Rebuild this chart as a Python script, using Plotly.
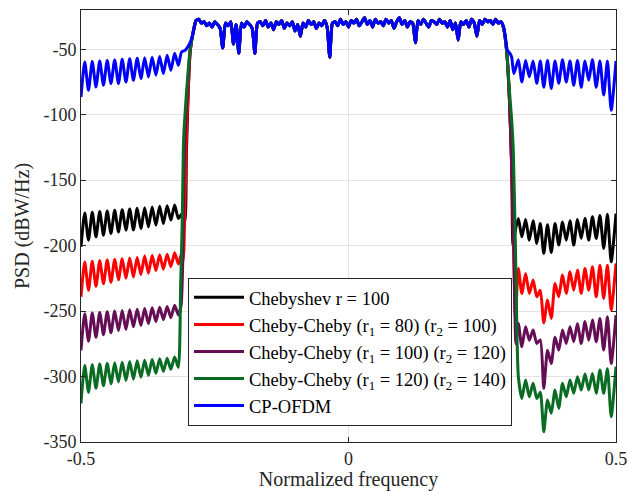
import plotly.graph_objects as go

# ---------------- data ----------------
# left side-lobe grid (null, peak, null, ...)
left_f = [-0.500, -0.493, -0.486, -0.479, -0.472, -0.465, -0.458, -0.451, -0.444,
          -0.437, -0.430, -0.423, -0.416, -0.409, -0.402, -0.395, -0.388, -0.381,
          -0.374, -0.367, -0.360, -0.353, -0.346, -0.339, -0.332, -0.325, -0.318]
# right side-lobe grid (peak, null, peak, ...)
right_f = [0.3175, 0.324, 0.331, 0.338, 0.345, 0.352, 0.3585, 0.365, 0.372, 0.379,
           0.386, 0.393, 0.400, 0.407, 0.414, 0.421, 0.428, 0.435, 0.442, 0.449,
           0.456, 0.463, 0.470, 0.477, 0.484, 0.491, 0.500]
# in-band grid
pass_f = [-0.285, -0.280, -0.275, -0.270, -0.265, -0.260, -0.255, -0.250, -0.245, -0.240,
          -0.235, -0.230, -0.225, -0.220, -0.215, -0.210, -0.205, -0.200, -0.195, -0.190,
          -0.185, -0.180, -0.175, -0.170, -0.165, -0.160, -0.155, -0.150, -0.145, -0.140,
          -0.135, -0.130, -0.125, -0.120, -0.115, -0.110, -0.105, -0.100, -0.095, -0.090,
          -0.085, -0.080, -0.075, -0.070, -0.065, -0.060, -0.055, -0.050, -0.045, -0.040,
          -0.035, -0.030, -0.025, -0.020, -0.015, -0.010, -0.005, 0.000, 0.005, 0.010,
          0.015, 0.020, 0.025, 0.030, 0.035, 0.040, 0.045, 0.050, 0.055, 0.060,
          0.065, 0.070, 0.075, 0.080, 0.085, 0.090, 0.095, 0.100, 0.105, 0.110,
          0.115, 0.120, 0.125, 0.130, 0.135, 0.140, 0.145, 0.150, 0.155, 0.160,
          0.165, 0.170, 0.175, 0.180, 0.185, 0.190, 0.195, 0.200, 0.205, 0.210,
          0.215, 0.220, 0.225, 0.230, 0.235, 0.240, 0.245, 0.250, 0.255, 0.260,
          0.265, 0.270, 0.275, 0.280, 0.285]
pass_psd = [-28, -27, -30, -29, -32, -30, -33, -29, -31, -34,
            -49, -30, -32, -29, -46, -31, -53, -30, -33, -29,
            -31, -34, -53, -30, -29, -32, -28, -33, -30, -35,
            -29, -31, -28, -34, -30, -32, -29, -36, -31, -40,
            -30, -33, -28, -31, -29, -34, -30, -32, -28, -33,
            -56, -30, -29, -32, -27, -31, -29, -33, -28, -30,
            -27, -32, -29, -26, -31, -28, -33, -27, -30, -29,
            -32, -27, -30, -28, -34, -29, -26, -31, -28, -33,
            -29, -30, -45, -28, -31, -27, -30, -33, -28, -29,
            -31, -27, -30, -29, -33, -28, -35, -30, -43, -29,
            -31, -28, -33, -27, -30, -40, -28, -31, -27, -29,
            -28, -31, -27, -30, -29]

# Chebyshev r = 100
cheb_left = [-200.9, -175, -195.8, -174.5, -193.3, -174, -192, -173.5, -190.7, -173,
             -189.5, -172.5, -188.2, -172, -188, -171.5, -186.9, -171, -185.6, -170.5,
             -184.4, -170, -183.1, -169.5, -180.5, -169, -179.3]
cheb_tl_f = [-0.312, -0.306, -0.303, -0.300, -0.296, -0.290]
cheb_tl = [-176, -182, -130, -88, -52, -36]
cheb_tr_f = [0.290, 0.296, 0.301, 0.305, 0.3075, 0.311]
cheb_tr = [-34, -53, -90, -140, -199.6, -190]
cheb_right = [-179.3, -193.3, -180, -195.8, -181, -198.3, -183, -206, -184, -205.2,
              -183, -199.6, -182, -195.8, -181, -199.6, -180, -194.5, -179, -195.8,
              -178, -194.5, -177, -202.1, -176, -212.4, -175.5]

# Cheby-Cheby (r1 = 80) (r2 = 100)
cc80_left = [-239, -212.5, -234, -212, -231, -211.5, -229, -211, -228, -210.5,
             -226, -210, -225, -209.5, -224, -209, -222, -208, -221, -207.5,
             -219, -207, -218, -206.5, -216, -205.5, -214]
cc80_tl_f = [-0.312, -0.309, -0.306, -0.3035, -0.300, -0.296, -0.290]
cc80_tl = [-206, -212, -175, -125, -85, -52, -36]
cc80_tr_f = [0.290, 0.296, 0.301, 0.305, 0.308, 0.312]
cc80_tr = [-34, -53, -90, -140, -190, -255]
cc80_right = [-217.4, -236.5, -221.2, -236.5, -226.3, -239.1, -234, -259, -241.6, -255.6,
              -228.9, -239.1, -222.5, -236.5, -220, -234, -218.7, -236.5, -217.4, -234,
              -216.2, -239.1, -214.9, -240.3, -214.9, -249.2, -213.6]

# Cheby-Cheby (r1 = 100) (r2 = 120)
cc100_left = [-280, -252, -273, -251.5, -270, -251, -268, -250.5, -266.5, -250,
              -265, -249.5, -264, -249, -262, -248.5, -261, -248, -259.5, -247.5,
              -258, -247, -256.5, -246.5, -255, -245.5, -253]
cc100_tl_f = [-0.313, -0.310, -0.308, -0.305, -0.301, -0.296, -0.290]
cc100_tl = [-246, -215, -150, -110, -80, -51, -36]
cc100_tr_f = [0.290, 0.296, 0.301, 0.305, 0.309, 0.313]
cc100_tr = [-34, -53, -90, -135, -200, -275]
cc100_right = [-259.4, -277.3, -262, -272.2, -264.5, -274.7, -272, -309, -280, -290,
               -270, -279.8, -264.5, -274.7, -262, -273.4, -259.4, -274.7, -258, -272.2,
               -256.9, -273.4, -255.6, -279.8, -254.4, -290, -253.1]

# Cheby-Cheby (r1 = 120) (r2 = 140)
cc120_left = [-320.5, -291.5, -312, -291, -309, -290.5, -307, -290, -305.5, -289.5,
              -304, -289, -303, -288.5, -302, -288, -300.5, -287.5, -299, -287,
              -297.5, -286.5, -296, -286, -294.5, -285, -293]
cc120_tl_f = [-0.3137, -0.3106, -0.3088, -0.3075, -0.3025, -0.2963, -0.290]
cc120_tl = [-229, -178, -127, -112, -81, -51, -37]
cc120_tr_f = [0.290, 0.296, 0.3005, 0.305, 0.308, 0.312, 0.315]
cc120_tr = [-34, -53, -80, -104, -127, -200, -270]
cc120_right = [-300.1, -316.7, -302.7, -315.4, -305.2, -316.7, -312, -342.1, -318, -328.1,
               -310.3, -324.3, -305.2, -315.4, -302.7, -312.8, -300.1, -310.3, -298, -310.3,
               -297.6, -312.8, -295, -312.8, -294, -330.7, -292.5]

# CP-OFDM
ofdm_left = [-86.4, -59.7, -81.3, -59.3, -78.8, -58.9, -77.5, -58.5, -76.2, -58.1,
             -76.2, -57.7, -75, -57.3, -73.7, -56.9, -72.4, -56.5, -71.1, -56,
             -69.8, -55.5, -68.6, -54.6, -66, -53, -62.2]
ofdm_tl_f = [-0.312, -0.306, -0.301, -0.296, -0.292, -0.288]
ofdm_tl = [-52, -51, -48.5, -45, -40, -33]
ofdm_tr_f = [0.290, 0.294, 0.297, 0.302, 0.305, 0.309]
ofdm_tr = [-33, -43, -50.8, -53.3, -56, -68.6]
ofdm_right = [-58, -75, -58.5, -71, -59, -76, -59, -79, -58.5, -80,
              -59, -76, -58, -75, -59, -77.5, -58.5, -79, -59, -73.7,
              -58, -79, -59, -85, -59, -96.6, -59]

names = ["Chebyshev r = 100",
         "Cheby-Cheby (r<sub>1</sub> = 80) (r<sub>2</sub> = 100)",
         "Cheby-Cheby (r<sub>1</sub> = 100) (r<sub>2</sub> = 120)",
         "Cheby-Cheby (r<sub>1</sub> = 120) (r<sub>2</sub> = 140)",
         "CP-OFDM"]
colors = ["#000000", "#ff0000", "#650d55", "#0a6b22", "#0000ff"]

series = [
    (cheb_left, cheb_tl_f, cheb_tl, pass_psd, cheb_tr_f, cheb_tr, cheb_right),
    (cc80_left, cc80_tl_f, cc80_tl, pass_psd, cc80_tr_f, cc80_tr, cc80_right),
    (cc100_left, cc100_tl_f, cc100_tl, pass_psd, cc100_tr_f, cc100_tr, cc100_right),
    (cc120_left, cc120_tl_f, cc120_tl, pass_psd, cc120_tr_f, cc120_tr, cc120_right),
    (ofdm_left, ofdm_tl_f, ofdm_tl, pass_psd, ofdm_tr_f, ofdm_tr, ofdm_right),
]

ytick_vals = [-350, -300, -250, -200, -150, -100, -50]
ytick_text = ["-350", "-300", "-250", "-200", "-150", "-100", "-50"]
xtick_vals = [-0.5, 0, 0.5]
xtick_text = ["-0.5", "0", "0.5"]

FONT = "Liberation Serif"

fig = go.Figure()
for (lv, tlf, tl, pv, trf, tr, rv), name, col in zip(series, names, colors):
    xs = left_f + tlf + pass_f + trf + right_f
    ys = lv + tl + pv + tr + rv
    fig.add_trace(go.Scatter(x=xs, y=ys, mode="lines", name=name,
                             line=dict(color=col, width=3, shape="spline", smoothing=0.6)))

axis_common = dict(showline=True, linecolor="#262626", linewidth=1, mirror="ticks",
                   ticks="inside", ticklen=5, tickcolor="#262626",
                   showgrid=True, gridcolor="#e3e3e3", gridwidth=1, zeroline=False,
                   automargin=False,
                   tickfont=dict(family=FONT, size=18, color="#262626"))

fig.update_layout(
    width=628, height=491,
    margin=dict(l=81, r=12, t=10, b=49),
    paper_bgcolor="white", plot_bgcolor="white",
    font=dict(family=FONT, size=18, color="#262626"),
    xaxis=dict(range=[-0.5, 0.5], tickvals=xtick_vals, ticktext=xtick_text,
               title=dict(text="Normalized frequency", font=dict(family=FONT, size=20, color="#262626"),
                          standoff=4),
               **axis_common),
    yaxis=dict(range=[-350, -20], tickvals=ytick_vals, ticktext=ytick_text,
               title=dict(text="PSD (dBW/Hz)", font=dict(family=FONT, size=20, color="#262626"),
                          standoff=8),
               **axis_common),
    legend=dict(x=0.2, y=0.38, xanchor="left", yanchor="top",
                bgcolor="white", bordercolor="#262626", borderwidth=1,
                font=dict(family=FONT, size=18.5, color="#000000"),
                itemwidth=50, tracegroupgap=0),
    showlegend=True,
)

fig.write_html("out.html")
